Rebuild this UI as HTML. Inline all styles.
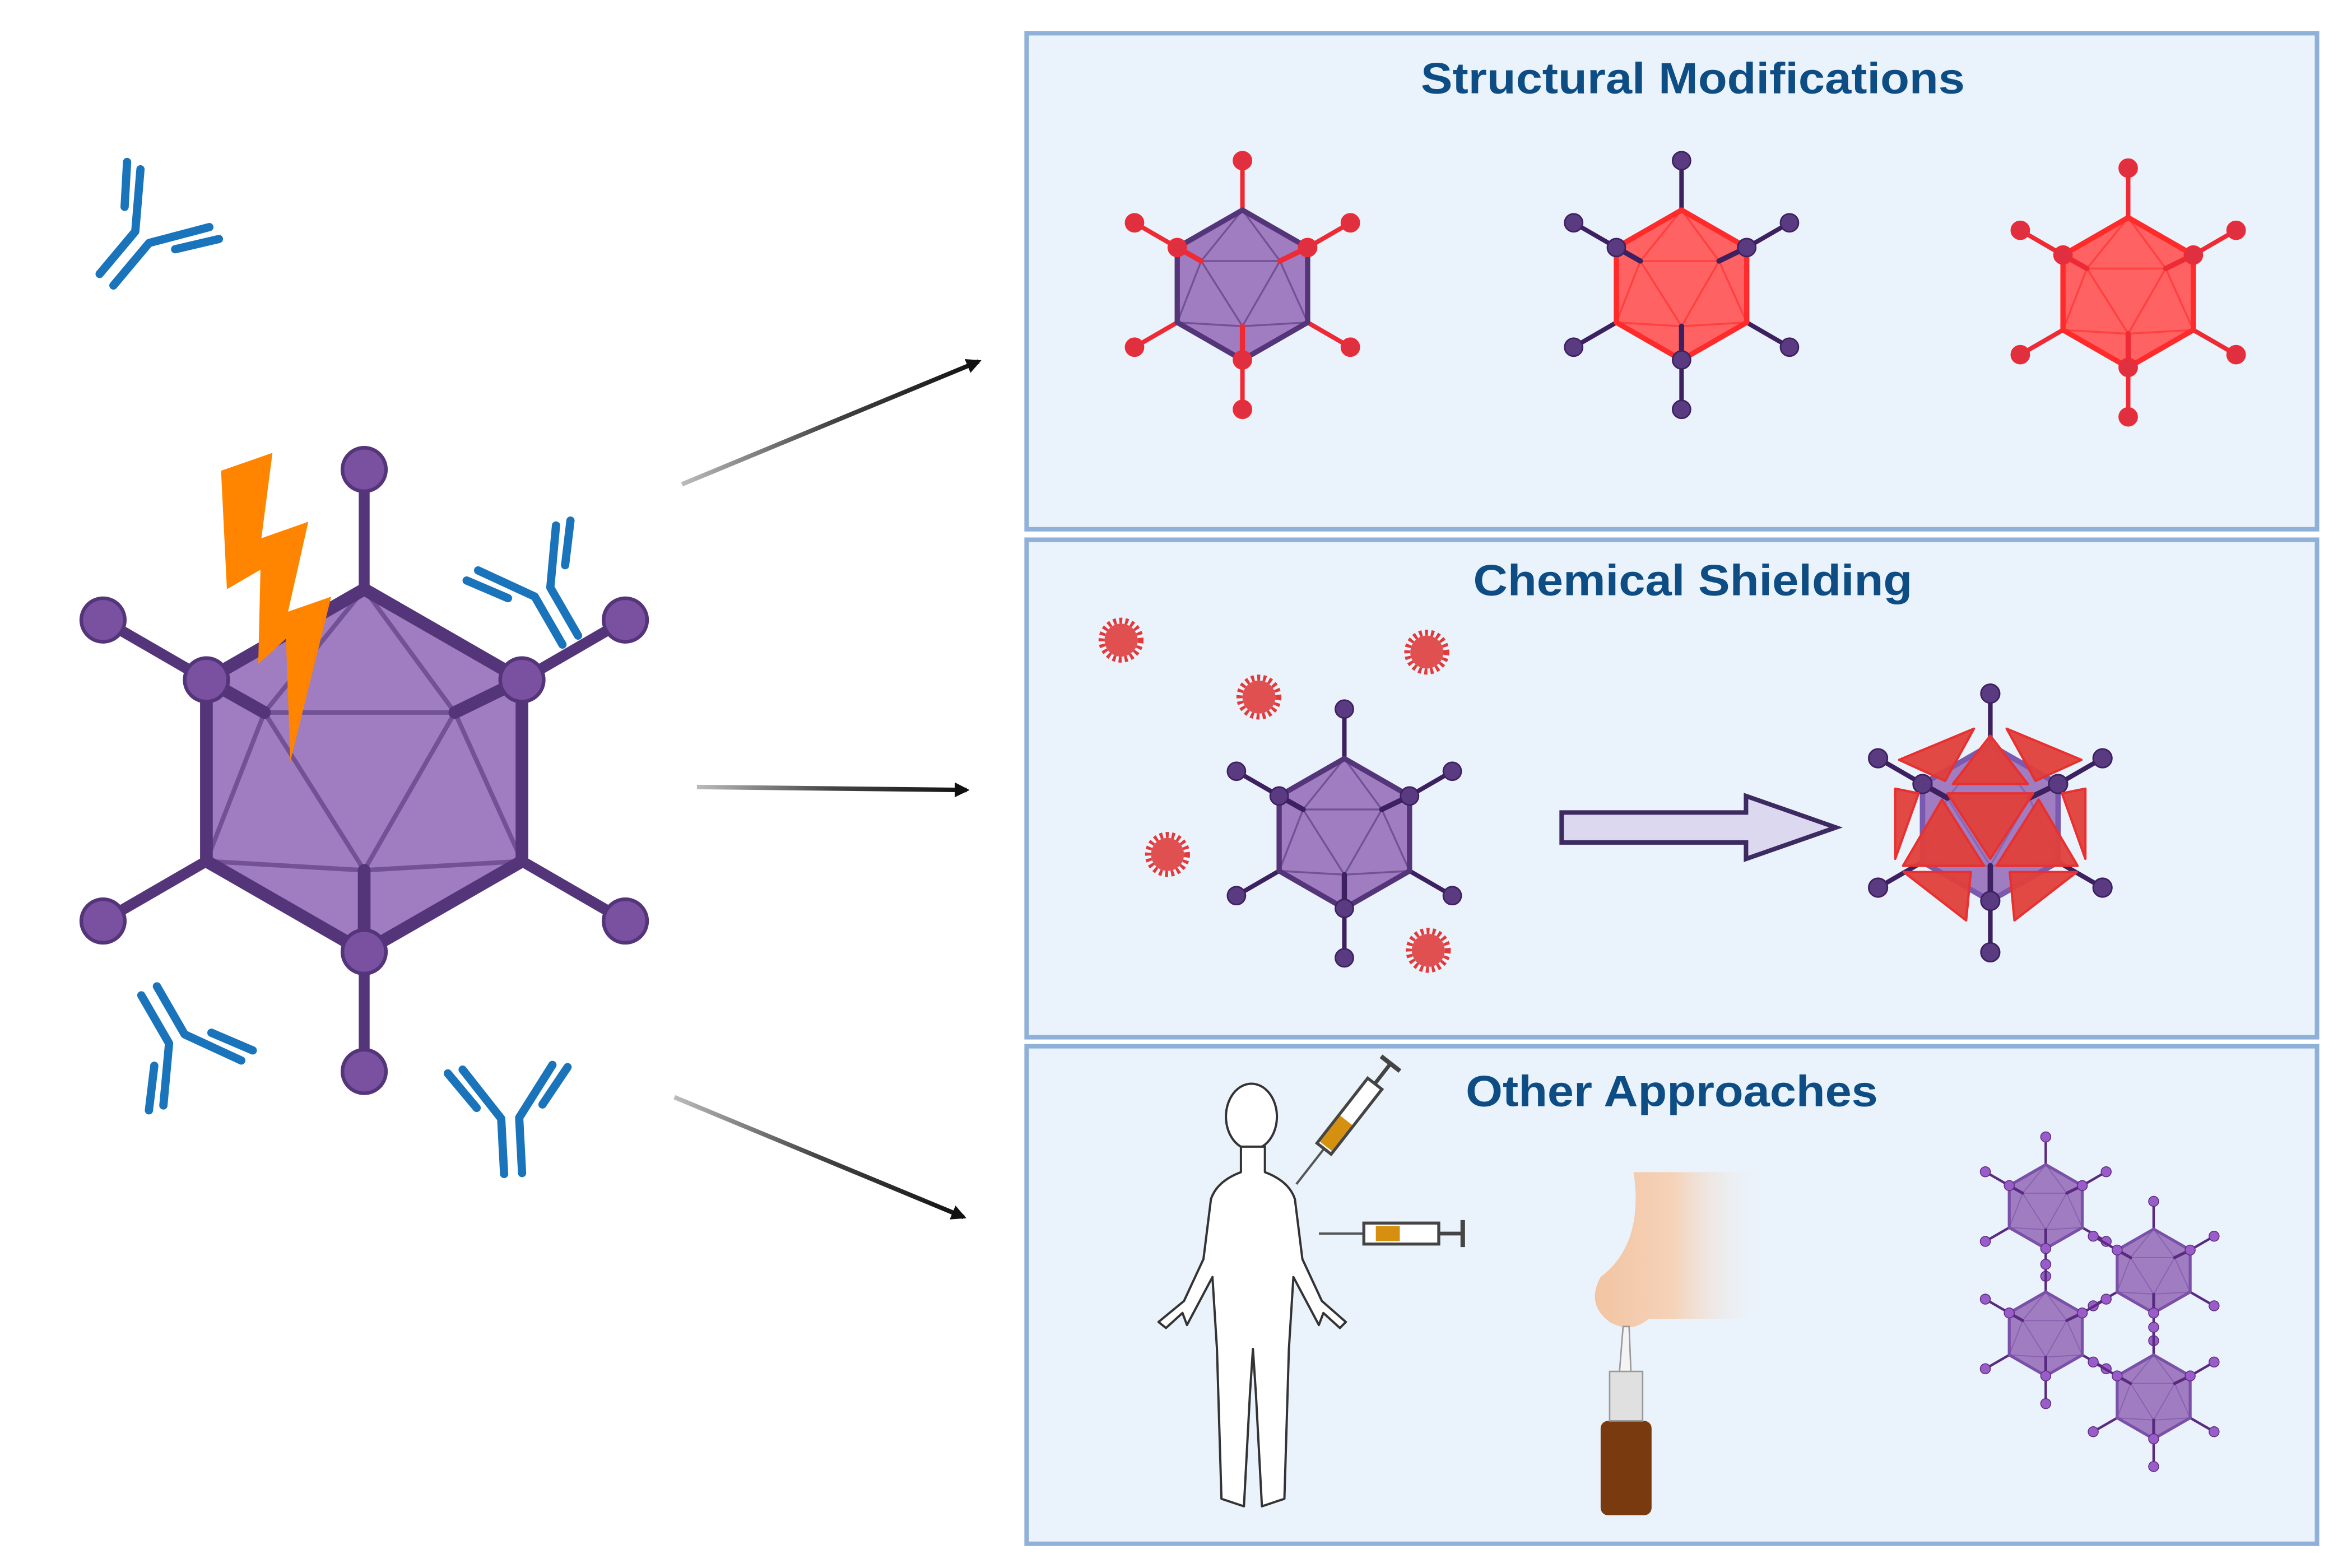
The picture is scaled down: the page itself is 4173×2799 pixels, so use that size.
<!DOCTYPE html>
<html><head><meta charset="utf-8"><style>
html,body{margin:0;padding:0;background:#fff}
svg{display:block}
text{font-family:"Liberation Sans",Arial,sans-serif;font-weight:bold;fill:#0d4d84}
</style></head><body>
<svg width="4173" height="2799" viewBox="0 0 1560 1046" xmlns="http://www.w3.org/2000/svg">
<defs>
<linearGradient id="ag1" x1="0" y1="0" x2="1" y2="0"><stop offset="0" stop-color="#bbb"/><stop offset="0.5" stop-color="#444"/><stop offset="1" stop-color="#111"/></linearGradient>
<marker id="ah" markerWidth="10" markerHeight="10" refX="8" refY="5" orient="auto" markerUnits="userSpaceOnUse"><path d="M0,0 L10,5 L0,10 Z" fill="#111"/></marker>
<linearGradient id="skin" x1="0" y1="0" x2="1" y2="0"><stop offset="0" stop-color="#f2c4a2"/><stop offset="0.45" stop-color="#f5d2b8"/><stop offset="1" stop-color="#eaf3fc" stop-opacity="0"/></linearGradient>
<g id="v">
  <g style="stroke:var(--sp)" stroke-width="6" stroke-linecap="round">
    <line x1="0" y1="-100" x2="0" y2="-166"/><line x1="87" y1="-50" x2="144" y2="-83"/>
    <line x1="87" y1="50" x2="144" y2="83"/><line x1="0" y1="100" x2="0" y2="166"/>
    <line x1="-87" y1="50" x2="-144" y2="83"/><line x1="-87" y1="-50" x2="-144" y2="-83"/>
  </g>
  <polygon points="0,-100 87,-50 87,50 0,100 -87,50 -87,-50" style="fill:var(--body);stroke:var(--edge)" stroke-width="7" stroke-linejoin="round"/>
  <g style="stroke:var(--edge)" stroke-width="2.5" opacity="0.6" fill="none">
    <polygon points="-55,-32 50,-32 0,55"/>
    <line x1="0" y1="-100" x2="-55" y2="-32"/><line x1="0" y1="-100" x2="50" y2="-32"/>
    <line x1="-87" y1="50" x2="-55" y2="-32"/><line x1="-87" y1="50" x2="0" y2="55"/>
    <line x1="87" y1="50" x2="50" y2="-32"/><line x1="87" y1="50" x2="0" y2="55"/>
  </g>
  <g style="stroke:var(--sp)" stroke-width="7" stroke-linecap="round">
    <line x1="-87" y1="-50" x2="-55" y2="-32"/><line x1="87" y1="-50" x2="50" y2="-32"/><line x1="0" y1="100" x2="0" y2="55"/>
  </g>
  <g style="fill:var(--ball);stroke:var(--sp)" stroke-width="2">
    <circle cx="0" cy="-166" r="12"/><circle cx="144" cy="-83" r="12"/><circle cx="144" cy="83" r="12"/>
    <circle cx="0" cy="166" r="12"/><circle cx="-144" cy="83" r="12"/><circle cx="-144" cy="-83" r="12"/>
    <circle cx="-87" cy="-50" r="12"/><circle cx="87" cy="-50" r="12"/><circle cx="0" cy="100" r="12"/>
  </g>
</g>
<g id="ab" fill="none" stroke="#1a74bb" stroke-width="5.5" stroke-linecap="round" stroke-linejoin="round">
  <path d="M-6,45 L-6,8 L-30,-26"/><path d="M6,45 L6,8 L30,-26"/>
  <path d="M-22,0 L-40,-24"/><path d="M22,0 L40,-24"/>
</g>
<g id="sun"><circle r="13" fill="none" stroke="#e23a3a" stroke-width="4" stroke-dasharray="2 2"/><circle r="11" fill="#e05050"/></g>
</defs>

<rect width="1560" height="1046" fill="#fff"/>

<rect x="685" y="22" width="861" height="331" fill="#eaf3fc" stroke="#8fb0d8" stroke-width="3"/>
<rect x="685" y="360" width="861" height="332" fill="#eaf3fc" stroke="#8fb0d8" stroke-width="3"/>
<rect x="685" y="698" width="861" height="332" fill="#eaf3fc" stroke="#8fb0d8" stroke-width="3"/>
<text x="948" y="62" font-size="29" textLength="363" lengthAdjust="spacingAndGlyphs">Structural Modifications</text>
<text x="983" y="397" font-size="29" textLength="293" lengthAdjust="spacingAndGlyphs">Chemical Shielding</text>
<text x="978" y="738" font-size="29" textLength="275" lengthAdjust="spacingAndGlyphs">Other Approaches</text>

<line x1="455" y1="323" x2="653" y2="241" stroke="url(#ag1)" stroke-width="3" marker-end="url(#ah)"/>
<line x1="465" y1="525" x2="645" y2="527" stroke="url(#ag1)" stroke-width="3" marker-end="url(#ah)"/>
<line x1="450" y1="732" x2="643" y2="812" stroke="url(#ag1)" stroke-width="3" marker-end="url(#ah)"/>

<use href="#v" transform="translate(243,514) scale(1.21)" style="--sp:#55357a;--edge:#55357a;--body:#a07cc0;--ball:#7a50a0"/>
<polygon points="147.5,314 181.8,302 174.4,359 205.7,348 192.2,408 221,398 193.7,508 190.8,426 172.3,443 173.8,380 151.4,393" fill="#ff8500"/>

<use href="#ab" transform="translate(100,152) rotate(40)"/>
<use href="#ab" transform="translate(358,388) rotate(-30)"/>
<use href="#ab" transform="translate(122,700) rotate(150)"/>
<use href="#ab" transform="translate(340,738) rotate(-3)"/>

<use href="#v" transform="translate(829,190) scale(0.5)" style="--sp:#ee2a35;--edge:#55357a;--body:#a07cc0;--ball:#e03040"/>
<use href="#v" transform="translate(1122,190) scale(0.5)" style="--sp:#3d2060;--edge:#ff2a2a;--body:#ff6262;--ball:#5a3a80"/>
<use href="#v" transform="translate(1420,195) scale(0.5)" style="--sp:#ee2a35;--edge:#ff2a2a;--body:#ff6262;--ball:#e03040"/>

<use href="#sun" transform="translate(748,427)"/>
<use href="#sun" transform="translate(840,465)"/>
<use href="#sun" transform="translate(952,435)"/>
<use href="#sun" transform="translate(779,570)"/>
<use href="#sun" transform="translate(953,634)"/>
<use href="#v" transform="translate(897,556) scale(0.5)" style="--sp:#3d2060;--edge:#55357a;--body:#a07cc0;--ball:#5a3a80"/>
<path d="M1042,542 L1165,542 L1165,531 L1225,552 L1165,573 L1165,562 L1042,562 Z" fill="#dcd8f0" stroke="#3d2a60" stroke-width="3"/>
<g transform="translate(1328,549) scale(0.52)">
  <use href="#v" style="--sp:#3d2060;--edge:#7a5ab0;--body:#a07cc0;--ball:#5a3a80"/>
  <g fill="#e0403a" fill-opacity="0.95" stroke="#e83030" stroke-width="3" stroke-linejoin="round">
    <polygon points="-21,-121 -117,-81 -58,-54"/>
    <polygon points="21,-121 117,-81 58,-54"/>
    <polygon points="0,-112 -48,-50 48,-50"/>
    <polygon points="-55,-38 55,-38 0,46"/>
    <polygon points="-62,-30 -8,55 -112,55"/>
    <polygon points="62,-30 8,55 112,55"/>
    <polygon points="-122,-44 -122,46 -92,-38"/>
    <polygon points="122,-44 122,46 92,-38"/>
    <polygon points="-111,63 -25,63 -31,125"/>
    <polygon points="111,63 25,63 31,125"/>
  </g>
</g>

<ellipse cx="835" cy="745" rx="17" ry="22" fill="#fff" stroke="#333" stroke-width="1.5"/>
<path d="M828,765 L828,782 Q812,788 808,800 L803,840 L790,868 L773,882 L778,886 L789,876 L792,884 L809,852 L812,900 L815,1000 L830,1005 L834,930 L836,900 L838,930 L842,1005 L857,1000 L860,900 L863,852 L880,884 L883,876 L894,886 L898,882 L882,868 L869,840 L864,800 Q860,788 844,782 L844,765 Z" fill="#fff" stroke="#333" stroke-width="1.5" stroke-linejoin="round"/>
<g transform="translate(865,790) rotate(-52)">
  <line x1="0" y1="0" x2="30" y2="0" stroke="#555" stroke-width="1.5"/>
  <rect x="30" y="-6" width="55" height="12" fill="#fff" stroke="#444" stroke-width="2"/>
  <rect x="32" y="-5" width="22" height="10" fill="#d4900e"/>
  <line x1="85" y1="0" x2="102" y2="0" stroke="#444" stroke-width="2.5"/>
  <line x1="102" y1="-8" x2="102" y2="8" stroke="#444" stroke-width="3"/>
</g>
<g transform="translate(880,823)">
  <line x1="0" y1="0" x2="30" y2="0" stroke="#555" stroke-width="1.5"/>
  <rect x="30" y="-7" width="50" height="14" fill="#fff" stroke="#444" stroke-width="2"/>
  <rect x="38" y="-5" width="16" height="10" fill="#d4900e"/>
  <line x1="80" y1="0" x2="96" y2="0" stroke="#444" stroke-width="2.5"/>
  <line x1="96" y1="-9" x2="96" y2="9" stroke="#444" stroke-width="3"/>
</g>
<path d="M1090,782 Q1097,830 1068,852 Q1058,870 1074,882 Q1088,890 1100,880 L1180,880 L1180,782 Z" fill="url(#skin)"/>
<path d="M1083,885 L1087,885 L1089,935 L1079,935 Z" fill="#f4f4f4" stroke="#999" stroke-width="1"/>
<rect x="1068" y="948" width="34" height="63" rx="5" fill="#7a3a10"/>
<rect x="1074" y="915" width="22" height="33" fill="#e0e0e0" stroke="#999" stroke-width="1"/>
<g style="--sp:#5a2a80;--edge:#7a50a8;--body:#a07cc0;--ball:#9a5cc8">
  <use href="#v" transform="translate(1365,805) scale(0.28)"/>
  <use href="#v" transform="translate(1437,848) scale(0.28)"/>
  <use href="#v" transform="translate(1365,890) scale(0.28)"/>
  <use href="#v" transform="translate(1437,932) scale(0.28)"/>
</g>
</svg>
</body></html>
